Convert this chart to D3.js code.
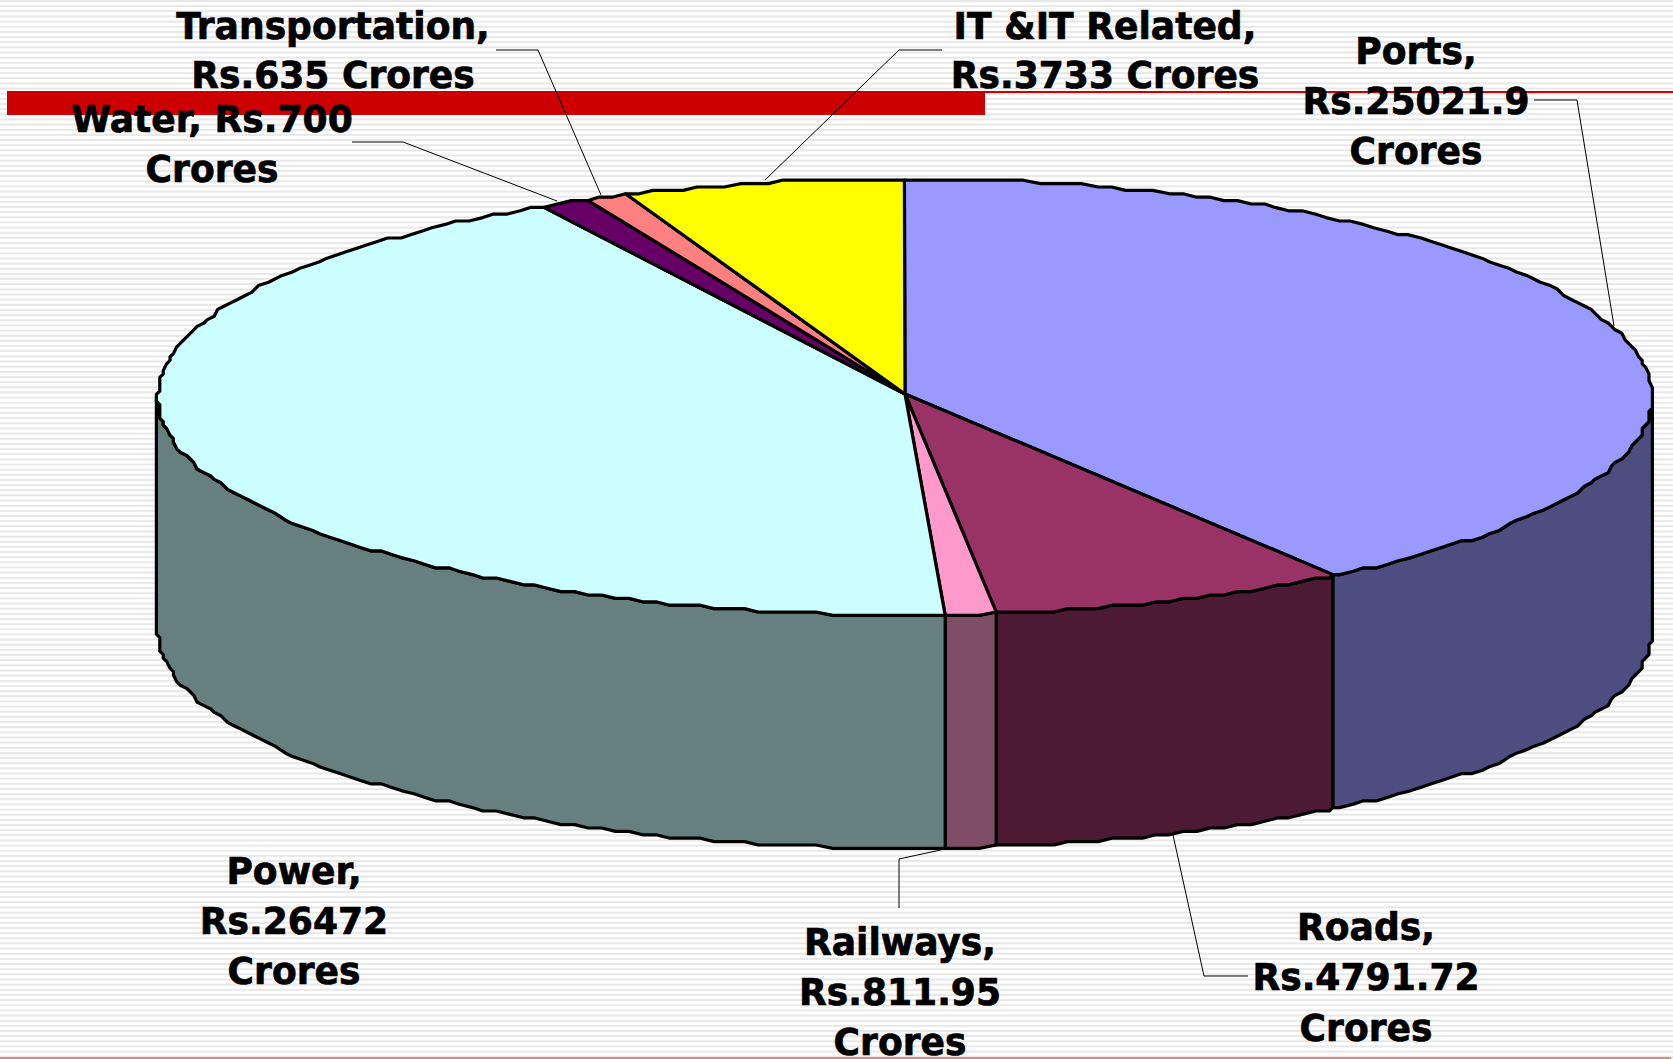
<!DOCTYPE html>
<html>
<head>
<meta charset="utf-8">
<script src="https://cdn.jsdelivr.net/npm/d3@7"></script>
<style>
  html, body { margin: 0; padding: 0; background: #fff; }
  svg { display: block; }
</style>
</head>
<body>
<svg id="chart"></svg>
<script>
const W = 1673, H = 1059;

// clockwise from 12 o'clock, same order as the sheet
const sectors = ["Ports", "Roads", "Railways", "Power", "Water", "Transportation", "IT & IT Related"];
const crores = [25021.9, 4791.72, 811.95, 26472, 700, 635, 3733];
const topColors = ["#9999ff", "#993366", "#ff99cc", "#ccffff", "#660066", "#ff8080", "#ffff00"];
const sideColors = ["#4d4d80", "#4d1a33", "#804d66", "#668080", "#330033", "#804040", "#808000"];

const labelLines = [
  ["Ports,", "Rs.25021.9", "Crores"],
  ["Roads,", "Rs.4791.72", "Crores"],
  ["Railways,", "Rs.811.95", "Crores"],
  ["Power,", "Rs.26472", "Crores"],
  ["Water, Rs.700", "Crores"],
  ["Transportation,", "Rs.635 Crores"],
  ["IT &IT Related,", "Rs.3733 Crores"]
];

// label centre x and first baseline y
const labelPos = [[1416, 64], [1366, 940], [900, 955], [294, 884], [212, 132], [333, 39], [1105, 39]];
const lineGap = [50, 50.5, 50, 50, 50, 49, 49];
// leader lines from label to pie rim
const leaders = [
  [[1534, 100], [1577, 100], [1614, 326]],
  [[1248, 976], [1204, 976], [1173, 835]],
  [[899, 908], [899, 859], [945, 849]],
  null,
  [[352, 142], [403, 142], [557, 201]],
  [[496, 50], [538, 50], [601, 195]],
  [[942, 50], [899, 50], [765, 180]]
];

const cx = 905, cy = 397, rx = 747, ry = 218, depth = 233;
const apexY = 394;
const grid = 3.4;
const rimStep = 0.02;

const svg = d3.select("#chart").attr("width", W).attr("height", H);

// faint horizontal stripes behind everything
const stripes = d3.range(0, H, 5.15);
svg.selectAll("rect.stripe").data(stripes).enter().append("rect")
  .attr("class", "stripe")
  .attr("x", 0).attr("width", W)
  .attr("y", d => d)
  .attr("height", 2)
  .attr("fill", "#e8e8e8");

// template bars
svg.append("rect").attr("x", 7).attr("y", 91).attr("width", 978).attr("height", 24).attr("fill", "#cc0000");
svg.append("rect").attr("x", 985).attr("y", 91).attr("width", W - 985).attr("height", 2).attr("fill", "#cc0000");
svg.append("rect").attr("x", 0).attr("y", 1057).attr("width", 1671).attr("height", 2).attr("fill", "#f08080");

// the old renderer only does whole degrees
const wholeDegree = a => Math.round(a * 180 / Math.PI) * Math.PI / 180;
const arcs = d3.pie().sort(null).value(d => d)(crores).map(d => ({
  index: d.index,
  startAngle: wholeDegree(d.startAngle),
  endAngle: wholeDegree(d.endAngle)
}));

// flat pie squashed to an ellipse, snapped to a coarse grid like the old renderer
const snap = v => Math.round(v / grid) * grid;
const rim = (a, dy = 0) => [snap(cx + rx * Math.sin(a)), snap(cy - ry * Math.cos(a)) + dy];
// samples sit on a fixed angle grid so that walls and tops share their corners
const arcPoints = (a0, a1, dy = 0) => {
  const lo = Math.min(a0, a1), hi = Math.max(a0, a1);
  const inner = d3.range(Math.ceil(lo / rimStep), Math.floor(hi / rimStep) + 1)
    .map(k => k * rimStep)
    .filter(a => a > lo + 0.004 && a < hi - 0.004);
  const angles = [lo, ...inner, hi];
  if (a0 > a1) angles.reverse();
  return angles.map(a => rim(a, dy));
};
const line = d3.line();
const black = "#000";

// wall, only the front half of the rim (pi/2 .. 3pi/2) can be seen
const walls = arcs.map(d => ({
  i: d.index,
  a0: Math.max(d.startAngle, Math.PI / 2),
  a1: Math.min(d.endAngle, 3 * Math.PI / 2)
})).filter(d => d.a1 > d.a0);

svg.append("g").selectAll("path").data(walls).enter().append("path")
  .attr("d", d => {
    const top = arcPoints(d.a0, d.a1);
    const bottom = arcPoints(d.a1, d.a0, depth);
    return line(top.concat(bottom)) + "Z";
  })
  .attr("fill", d => sideColors[d.i])
  .attr("stroke", black)
  .attr("stroke-width", 3.2)
  .attr("stroke-linejoin", "round");

// top faces
svg.append("g").selectAll("path").data(arcs).enter().append("path")
  .attr("d", d => line([[cx, apexY]].concat(arcPoints(d.startAngle, d.endAngle))) + "Z")
  .attr("fill", d => topColors[d.index])
  .attr("stroke", black)
  .attr("stroke-width", 3.2)
  .attr("stroke-linejoin", "round");

// leaders
svg.append("g").selectAll("path").data(leaders.filter(d => d)).enter().append("path")
  .attr("d", d => line(d))
  .attr("fill", "none")
  .attr("stroke", black)
  .attr("stroke-width", 1);

// labels, Verdana-like bold squeezed sideways
const textScale = 0.975;
const labels = svg.append("g").selectAll("text").data(labelLines).enter().append("text")
  .attr("transform", (d, i) => `translate(${labelPos[i][0]},${labelPos[i][1]}) scale(${textScale},1)`)
  .attr("text-anchor", "middle")
  .attr("font-family", "'DejaVu Sans', Verdana, sans-serif")
  .attr("font-weight", "bold")
  .attr("font-size", 37)
  .attr("fill", black)
  .attr("stroke", black)
  .attr("stroke-width", 0.7);
labels.selectAll("tspan").data((d, i) => d.map(t => ({ t, gap: lineGap[i] }))).enter().append("tspan")
  .attr("x", 0)
  .attr("dy", (d, i) => i ? d.gap : 0)
  .text(d => d.t);
</script>
</body>
</html>
